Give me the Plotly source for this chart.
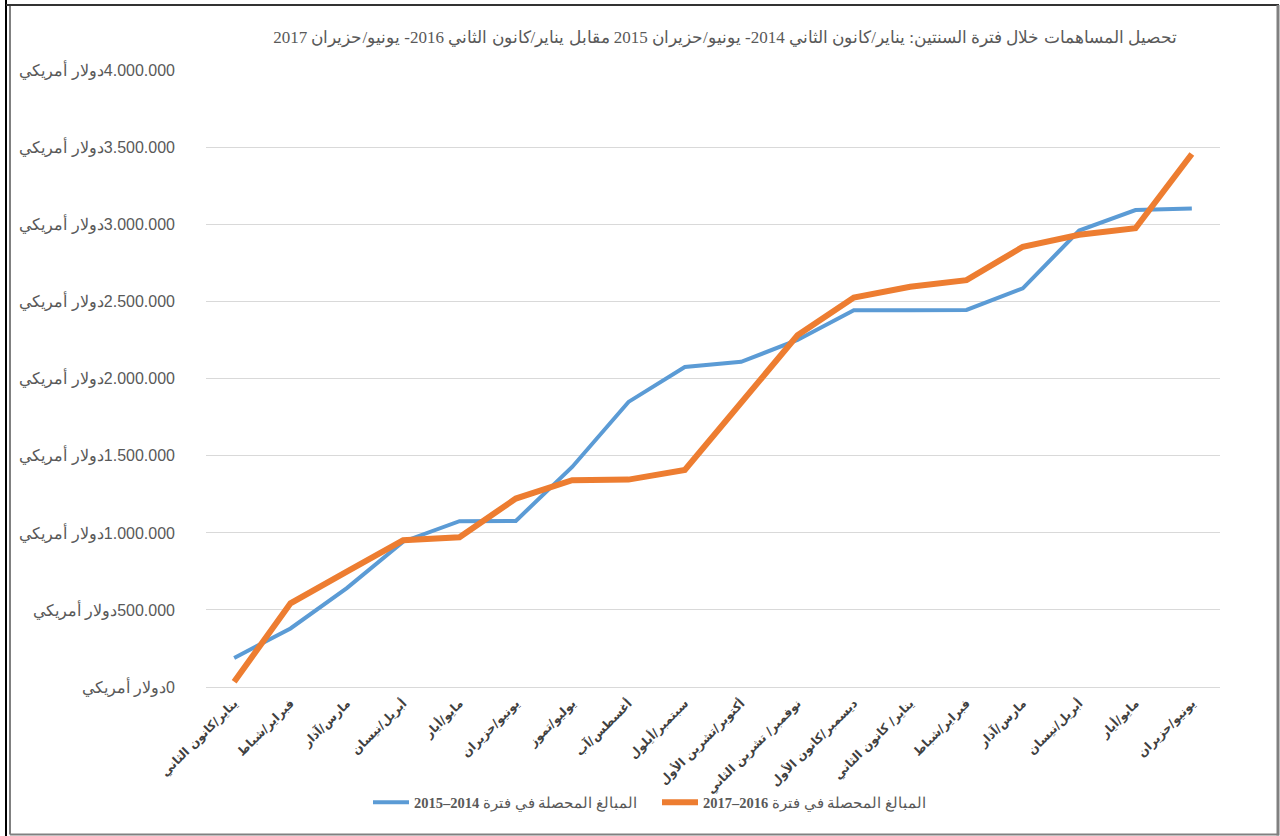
import plotly.graph_objects as go

months = [
    "يناير/كانون الثاني", "فبراير/شباط", "مارس/آذار", "أبريل/نيسان",
    "مايو/أيار", "يونيو/حزيران", "يوليو/تموز", "أغسطس/آب",
    "سبتمبر/أيلول", "أكتوبر/تشرين الأول", "نوفمبر/ تشرين الثاني",
    "ديسمبر/كانون الأول", "يناير/ كانون الثاني", "فبراير/شباط",
    "مارس/آذار", "أبريل/نيسان", "مايو/أيار", "يونيو/حزيران",
]
positions = list(range(len(months)))

period_2014_2015 = [
    188000, 380000, 642000, 943000, 1076000, 1078000, 1428000, 1850000,
    2077000, 2110000, 2252000, 2445000, 2445000, 2447000, 2587000,
    2962000, 3095000, 3106000,
]
period_2016_2017 = [
    34000, 543000, 748000, 953000, 972000, 1223000, 1342000, 1346000,
    1408000, 1840000, 2282000, 2527000, 2597000, 2640000, 2857000,
    2935000, 2977000, 3459000,
]

y_ticks = [0, 500000, 1000000, 1500000, 2000000, 2500000, 3000000, 3500000, 4000000]
currency = "دولار أمريكي"
y_ticktext = [currency + "\u200e" + f"{v:,}".replace(",", ".") for v in y_ticks]

name_a = "\u202bالمبالغ المحصلة في فترة <b>2014–2015</b>"
name_b = "\u202bالمبالغ المحصلة في فترة <b>2016–2017</b>"

title_text = ("تحصيل المساهمات خلال فترة السنتين: يناير/كانون الثاني 2014- يونيو/حزيران 2015 "
              "مقابل يناير/كانون الثاني 2016- يونيو/حزيران 2017")

fig = go.Figure()
fig.add_trace(go.Scatter(
    x=positions, y=period_2014_2015, mode="lines", name=name_a,
    line=dict(color="#5B9BD5", width=4),
))
fig.add_trace(go.Scatter(
    x=positions, y=period_2016_2017, mode="lines", name=name_b,
    line=dict(color="#ED7D31", width=6),
))

W, H = 1280, 836
L, R, T, B = 206, 1220, 70.7, 686.7
YMAX = 4004000
T_eff = B - (B - T) * YMAX / 4000000

def px(x):
    return (x - L) / (R - L)

def py(y):
    return (B - y) / (B - T_eff)

shapes = [
    dict(type="line", xref="paper", yref="paper", x0=px(6), x1=px(6), y0=py(0), y1=py(836),
         line=dict(color="#000000", width=2)),
    dict(type="line", xref="paper", yref="paper", x0=px(6), x1=px(1279), y0=py(5), y1=py(5),
         line=dict(color="#333333", width=2)),
    dict(type="line", xref="paper", yref="paper", x0=px(10), x1=px(10), y0=py(6), y1=py(834),
         line=dict(color="#808080", width=2)),
    dict(type="line", xref="paper", yref="paper", x0=px(10), x1=px(1279), y0=py(834), y1=py(834),
         line=dict(color="#808080", width=2)),
    dict(type="line", xref="paper", yref="paper", x0=px(1278), x1=px(1278), y0=py(5), y1=py(835),
         line=dict(color="#808080", width=3)),
]

fig.update_layout(
    width=W, height=H,
    margin=dict(l=L, r=W - R, t=T_eff, b=H - B, autoexpand=False),
    paper_bgcolor="white", plot_bgcolor="white",
    title=dict(text=title_text, x=725 / W, xanchor="center", y=1 - 37 / H, yanchor="middle",
               font=dict(family="Liberation Serif, DejaVu Serif, serif", size=17, color="#595959")),
    showlegend=True,
    legend=dict(orientation="h", x=px(368), xanchor="left", y=py(802), yanchor="middle",
                font=dict(family="Liberation Serif, DejaVu Serif, serif", size=14.5, color="#595959"),
                itemwidth=36, entrywidth=238, bgcolor="rgba(0,0,0,0)"),
    xaxis=dict(
        range=[-0.5, len(months) - 0.5], tickmode="array", tickvals=positions, ticktext=months,
        tickangle=-45, showgrid=False, zeroline=False, showline=False, ticks="",
        tickfont=dict(family="DejaVu Sans, sans-serif", size=12, color="#404040", weight="bold"),
        ticklabelstandoff=6,
    ),
    yaxis=dict(
        range=[0, YMAX], tickmode="array", tickvals=y_ticks, ticktext=y_ticktext,
        showgrid=True, gridcolor="#D9D9D9", gridwidth=1,
        zeroline=True, zerolinecolor="#D9D9D9", zerolinewidth=1, showline=False, ticks="",
        tickfont=dict(family="Liberation Sans, Arial, sans-serif", size=16, color="#595959"),
        ticklabelstandoff=30,
    ),
    shapes=shapes,
    hovermode=False,
)

fig.write_html("out.html", config={"displayModeBar": False},
               post_script="document.body.style.margin='0';document.body.style.padding='0';")
